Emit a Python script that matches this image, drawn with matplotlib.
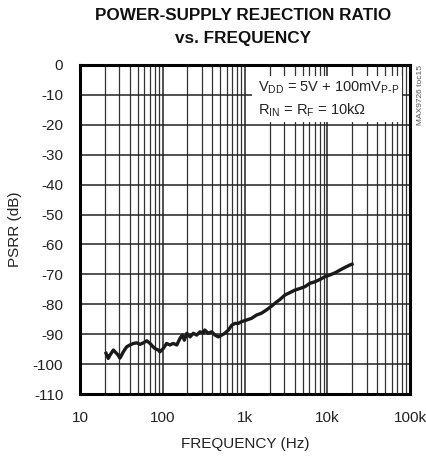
import matplotlib
matplotlib.use("Agg")
import matplotlib.pyplot as plt
from matplotlib.patches import Rectangle
from matplotlib.ticker import FixedLocator, NullFormatter, LogLocator

plt.rcParams['font.family'] = ['Liberation Sans', 'DejaVu Sans']
plt.rcParams['mathtext.fontset'] = 'custom'
plt.rcParams['mathtext.rm'] = 'Liberation Sans'
plt.rcParams['mathtext.it'] = 'Liberation Sans'

# Data
freq = [20.7, 22, 23.1, 25.4, 29, 30.5, 33.5, 36.8, 40.4, 44.3, 48.7, 53.5, 58.6,
        64.5, 70.7, 75.5, 81, 89, 93, 102, 112, 123, 135, 149, 163, 174, 184, 197,
        216, 236, 260, 285, 313, 325, 358, 394, 433, 475, 522, 570, 630, 690, 755,
        830, 910, 1040, 1200, 1380, 1580, 1820, 2100, 2420, 2650, 3050, 3500, 4000,
        4650, 5350, 6100, 7000, 8100, 9300, 10700, 12300, 14100, 16200, 18600, 19800]
psrr = [-96.4, -98.1, -97.0, -95.3, -97.0, -98.0, -95.9, -94.2, -93.6, -93.1, -92.9,
        -93.4, -92.9, -92.2, -93.1, -94.0, -94.8, -95.3, -95.9, -94.8, -93.1, -93.6,
        -93.1, -93.6, -91.4, -90.3, -92.0, -89.7, -90.9, -89.7, -90.3, -89.2, -89.7,
        -88.6, -89.7, -89.2, -90.3, -90.9, -90.3, -89.7, -88.6, -87.0, -86.4, -86.4,
        -85.8, -85.3, -84.7, -83.6, -83.0, -81.9, -80.6, -79.2, -78.4, -76.9, -76.1,
        -75.3, -74.7, -74.1, -73.0, -72.5, -71.7, -70.8, -70.2, -69.5, -68.6, -67.7,
        -66.9, -66.6]

xticks = [10, 100, 1000, 10000, 100000]
xticklabels = ['10', '100', '1k', '10k', '100k']
yticks = list(range(-110, 1, 10))
yticklabels = [str(v) for v in yticks]

W, H = 427, 457
fig = plt.figure(figsize=(W / 100, H / 100), dpi=100)
ax = fig.add_axes([80 / W, 1 - 394 / H, 330 / W, 329 / H])

ax.set_xscale('log')
ax.set_xlim(10, 100000)
ax.set_ylim(-110, 0)

ax.xaxis.set_major_locator(FixedLocator(xticks))
ax.set_xticklabels(xticklabels)
ax.xaxis.set_minor_locator(LogLocator(base=10, subs=range(2, 10), numticks=20))
ax.xaxis.set_minor_formatter(NullFormatter())
ax.set_yticks(yticks)
ax.set_yticklabels(yticklabels)

ax.tick_params(which='both', length=0, labelsize=11, colors='#222222')
ax.tick_params(axis='x', pad=12)
ax.tick_params(axis='y', pad=12)

ax.grid(which='major', axis='both', color='#222222', lw=1.1)
ax.grid(which='minor', axis='x', color='#333333', lw=0.9)
ax.set_axisbelow(True)

for s in ax.spines.values():
    s.set_linewidth(2.2)
    s.set_color('black')

ax.plot(freq, psrr, color='#1a1a1a', lw=2.4, solid_joinstyle='round', zorder=5)

ax.add_patch(Rectangle((0.521, 0.827), 0.455, 0.14, transform=ax.transAxes,
                       facecolor='white', edgecolor='none', zorder=3))
ax.text(0.538, 0.932, r'V$_{\mathrm{DD}}$ = 5V + 100mV$_{\text{P-P}}$', transform=ax.transAxes,
        fontsize=10.5, va='center', ha='left', zorder=6, color='#222222')
ax.text(0.538, 0.862, r'R$_{\mathrm{IN}}$ = R$_{\mathrm{F}}$ = 10k$\Omega$', transform=ax.transAxes,
        fontsize=10.5, va='center', ha='left', zorder=6, color='#222222')

ax.text(1.022, 1.0, 'MAX9726 toc15', transform=ax.transAxes, rotation=90,
        fontsize=6, va='top', ha='left', color='#555555')

ax.set_xlabel('FREQUENCY (Hz)', fontsize=11, color='#222222', labelpad=9)
ax.set_ylabel('PSRR (dB)', fontsize=11, color='#222222', labelpad=8)

fig.text(243 / W, 1 - 15 / H, 'POWER-SUPPLY REJECTION RATIO', ha='center', va='center',
         fontsize=12.3, fontweight='bold', color='#111111')
fig.text(243 / W, 1 - 39 / H, 'vs. FREQUENCY', ha='center', va='center',
         fontsize=12.3, fontweight='bold', color='#111111')

fig.savefig('out.png', dpi=100)
